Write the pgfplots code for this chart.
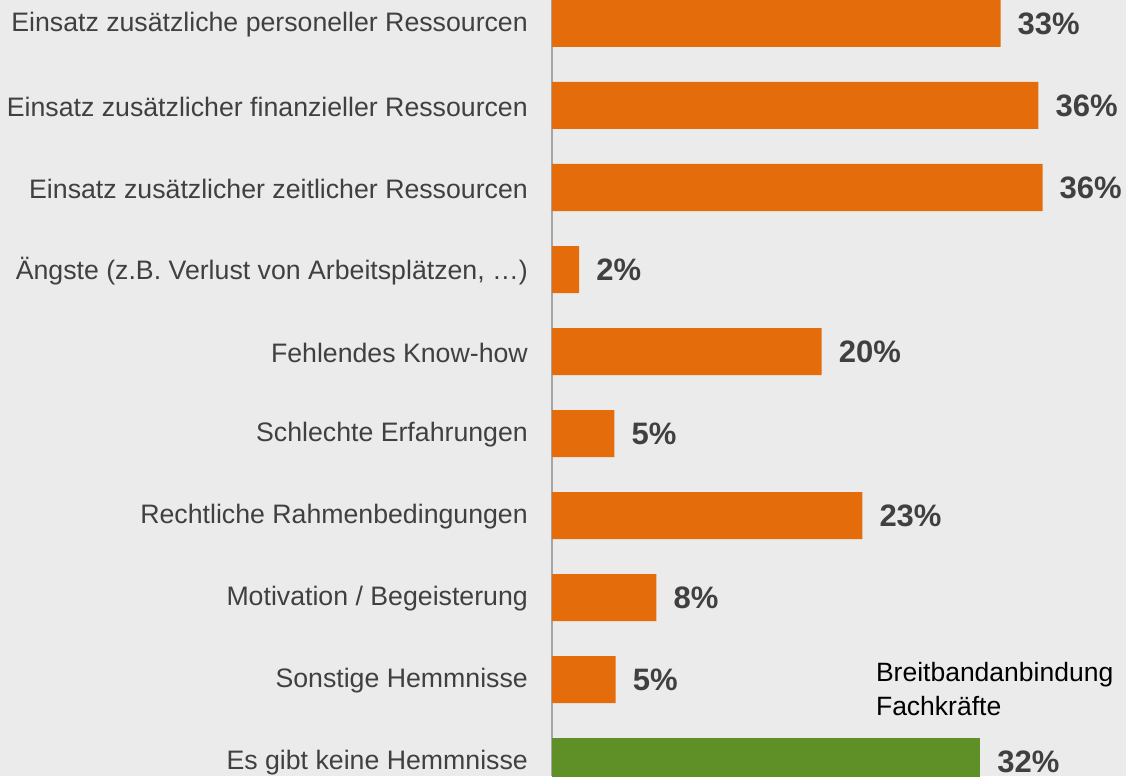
\documentclass[border=0pt]{standalone}
\usepackage{pgfplots}
\pgfplotsset{compat=1.18}
\usepackage{fontspec}
\setmainfont{Liberation Sans}
\usetikzlibrary{backgrounds}
\definecolor{bg}{HTML}{EBEBEB}
\definecolor{barorange}{HTML}{E46C0A}
\definecolor{bargreen}{HTML}{5F8F27}
\definecolor{txt}{HTML}{404040}
\definecolor{axisgray}{HTML}{A6A6A6}
\begin{document}
\begin{tikzpicture}
\begin{axis}[
  scale only axis, width=574pt, height=776pt,
  xmin=0, xmax=42.36, ymin=-0.2866, ymax=9.1768, y dir=reverse,
  enlargelimits=false,
  xbar, bar width=47pt, bar shift=0pt,
  clip=false,
  axis x line=none, axis y line*=left,
  y axis line style={draw=axisgray, line width=1.2pt},
  major tick length=0pt,
  ytick={0,...,9},
  yticklabels={Einsatz zusätzliche personeller Ressourcen,
    Einsatz zusätzlicher finanzieller Ressourcen,
    Einsatz zusätzlicher zeitlicher Ressourcen,
    {Ängste (z.B. Verlust von Arbeitsplätzen, …)},
    Fehlendes Know-how,
    Schlechte Erfahrungen,
    Rechtliche Rahmenbedingungen,
    Motivation / Begeisterung,
    Sonstige Hemmnisse,
    Es gibt keine Hemmnisse},
  yticklabel style={font=\fontsize{26.7}{30}\selectfont, text=txt, inner sep=0pt, xshift=-24pt, yshift=-1.5pt},
  nodes near coords={\pgfmathprintnumber[fixed,precision=0,assume math mode=true]{\pgfplotspointmeta}\%},
  every node near coord/.append style={font=\bfseries\fontsize{31}{34}\selectfont, text=txt, anchor=west, inner sep=0pt, xshift=17pt},
]
\addplot[fill=barorange, draw=none] table[x=x, y=y] {
x y
33.1 0
35.9 1
36.2 2
2.0 3
19.9 4
4.6 5
22.9 6
7.7 7
4.7 8
};
\addplot[fill=bargreen, draw=none] table[x=x, y=y] {
x y
31.6 9
};
\node[anchor=west, align=left, font=\fontsize{26.5}{34}\selectfont, text=black, inner sep=0pt] at (axis cs:23.9,8.116) {Breitbandanbindung\\Fachkräfte};
\end{axis}
\begin{pgfonlayer}{background}
\fill[bg] (-552pt,0pt) rectangle (574pt,776pt);
\end{pgfonlayer}
\pgfresetboundingbox
\useasboundingbox (-552pt,0pt) rectangle (574pt,776pt);
\end{tikzpicture}
\end{document}
